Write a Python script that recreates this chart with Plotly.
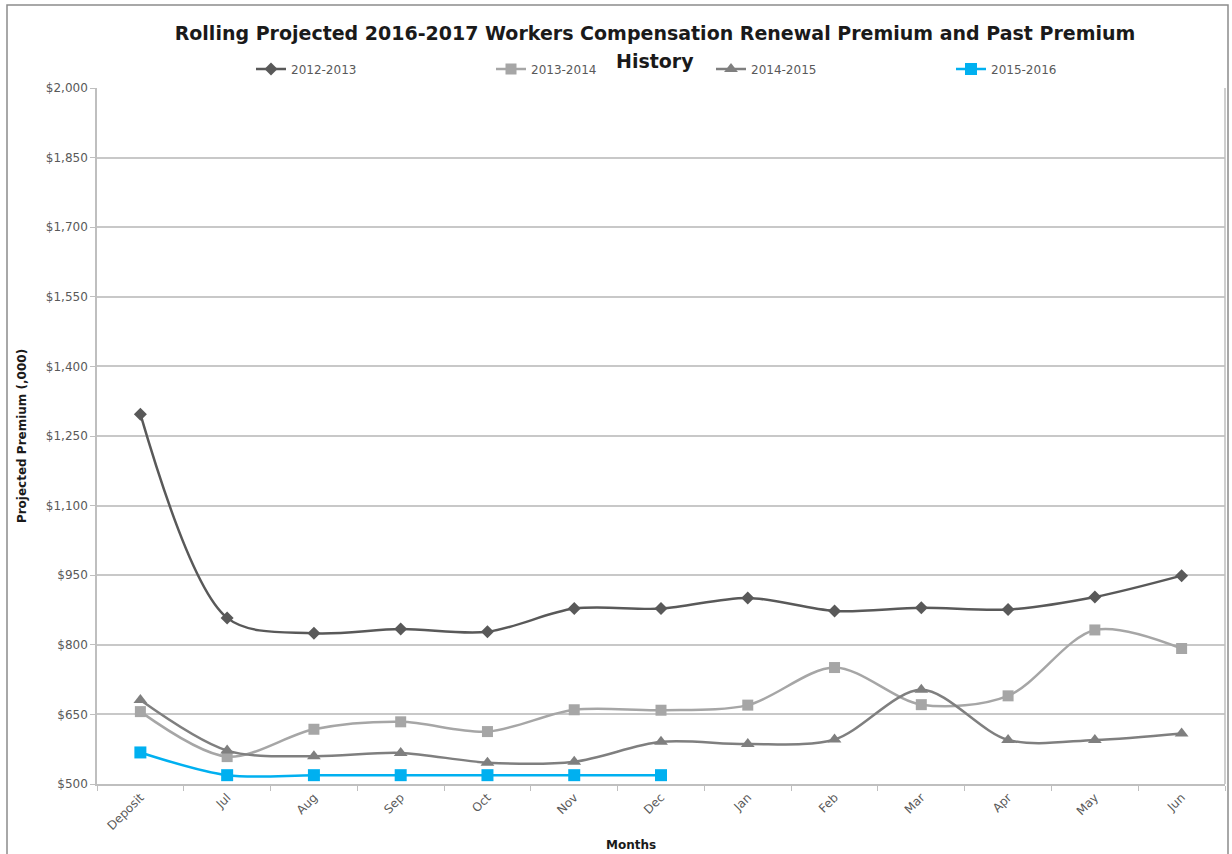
import plotly.graph_objects as go

months = ["Deposit", "Jul", "Aug", "Sep", "Oct", "Nov", "Dec",
          "Jan", "Feb", "Mar", "Apr", "May", "Jun"]

premium_2012_2013 = [1297, 858, 825, 834, 828, 878, 878, 901, 873, 880, 876, 903, 949]
premium_2013_2014 = [656, 559, 618, 634, 613, 660, 659, 670, 751, 671, 690, 832, 792]
premium_2014_2015 = [681, 572, 560, 567, 546, 548, 591, 586, 596, 703, 595, 595, 609]
premium_2015_2016 = [568, 519, 519, 519, 519, 519, 519]

y_ticks = [500, 650, 800, 950, 1100, 1250, 1400, 1550, 1700, 1850, 2000]
y_tick_labels = ["$500", "$650", "$800", "$950", "$1,100", "$1,250", "$1,400",
                 "$1,550", "$1,700", "$1,850", "$2,000"]

FONT = "DejaVu Sans"
TEXT_GRAY = "#595959"
TITLE_COLOR = "#1a1a1a"

# plot-area geometry in pixels, used to place items in the margins
PLOT_W, PLOT_H = 1128, 696

series = [
    ("2012-2013", premium_2012_2013, "#595959", "diamond", 10, "legend"),
    ("2013-2014", premium_2013_2014, "#A6A6A6", "square", 11, "legend"),
    ("2014-2015", premium_2014_2015, "#7F7F7F", "triangle-up", 12, "legend2"),
    ("2015-2016", premium_2015_2016, "#00B0F0", "square", 12, "legend2"),
]

fig = go.Figure()
for name, values, color, symbol, size, legend_id in series:
    fig.add_trace(go.Scatter(
        x=months[:len(values)], y=values, name=name, legend=legend_id,
        mode="lines+markers",
        line=dict(color=color, width=2.5, shape="spline", smoothing=0.9),
        marker=dict(symbol=symbol, size=size, color=color),
    ))

legend_style = dict(
    orientation="h", xref="paper", yref="paper",
    y=1 + 19 / PLOT_H, xanchor="left", yanchor="middle",
    entrywidth=195, entrywidthmode="pixels",
    font=dict(family=FONT, size=12, color=TEXT_GRAY),
    bgcolor="rgba(0,0,0,0)", itemwidth=30,
)

fig.update_layout(
    width=1232, height=854,
    margin=dict(l=97, r=7, t=88, b=70),
    paper_bgcolor="white", plot_bgcolor="white",
    font=dict(family=FONT, color=TEXT_GRAY, size=12),
    title=dict(
        text="<b>Rolling Projected 2016-2017 Workers Compensation Renewal Premium and Past Premium</b>",
        x=655 / 1232, xanchor="center", xref="container",
        y=1 - 33 / 854, yanchor="middle", yref="container",
        font=dict(family=FONT, size=19, color=TITLE_COLOR),
    ),
    showlegend=True,
    legend=dict(x=(251 - 97) / PLOT_W, **legend_style),
    legend2=dict(x=(711 - 97) / PLOT_W, **legend_style),
    xaxis=dict(
        type="category", categoryorder="array", categoryarray=months,
        range=[-0.5, 12.5], automargin=False,
        tickangle=-45, tickson="boundaries", ticks="outside", ticklen=5,
        tickcolor="#BFBFBF",
        showline=True, linecolor="#BFBFBF", linewidth=1.5, mirror=False,
        showgrid=False,
        tickfont=dict(family=FONT, size=12, color=TEXT_GRAY),
    ),
    yaxis=dict(
        range=[500, 2000], tickvals=y_ticks, ticktext=y_tick_labels,
        ticks="outside", ticklen=5, tickcolor="#BFBFBF",
        showline=True, linecolor="#BFBFBF", linewidth=1.5,
        showgrid=True, gridcolor="#C8C8C8", gridwidth=1.5,
        zeroline=False,
        tickfont=dict(family=FONT, size=12, color=TEXT_GRAY),
        title=dict(text="<b>Projected Premium (,000)</b>",
                   font=dict(family=FONT, size=12, color=TITLE_COLOR), standoff=17),
    ),
)

# second line of the chart title
fig.add_annotation(
    text="<b>History</b>", xref="paper", yref="paper",
    x=(655 - 97) / PLOT_W, y=1 + (88 - 61) / PLOT_H,
    xanchor="center", yanchor="middle", showarrow=False,
    font=dict(family=FONT, size=19, color=TITLE_COLOR),
)

# x-axis title
fig.add_annotation(
    text="<b>Months</b>", xref="paper", yref="paper",
    x=(631 - 97) / PLOT_W, y=-(845 - 784) / PLOT_H,
    xanchor="center", yanchor="middle", showarrow=False,
    font=dict(family=FONT, size=12, color=TITLE_COLOR),
)

# right edge of the plot area
fig.add_shape(type="line", xref="paper", yref="paper", x0=1, x1=1, y0=0, y1=1,
              line=dict(color="#BFBFBF", width=1.5))
# chart-area frame
fig.add_shape(type="rect", xref="paper", yref="paper",
              x0=-90 / PLOT_W, x1=1 + 3 / PLOT_W, y0=-0.2, y1=1 + 83 / PLOT_H,
              line=dict(color="#8C8C8C", width=1.5))

fig.write_html("out.html")
